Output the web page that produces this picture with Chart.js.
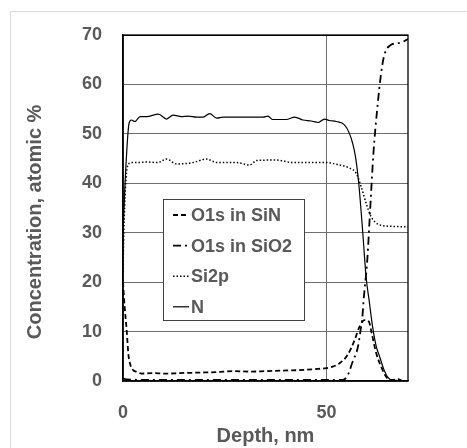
<!DOCTYPE html>
<html>
<head>
<meta charset="utf-8">
<script src="https://cdn.jsdelivr.net/npm/chart.js@4.4.1/dist/chart.umd.min.js"></script>
<style>
  body { margin: 0; background: #fff; }
  #wrap { position: relative; width: 467px; height: 448px; overflow: hidden; }
  #frame { position: absolute; left: 10px; top: 11px; width: 480px; height: 470px; border: 1.5px solid #d9d9d9; }
  #chart8 { position: absolute; left: 0; top: 0; }
</style>
</head>
<body>
<div id="wrap">
  <div id="frame"></div>
  <canvas id="chart8" width="467" height="448"></canvas>
</div>
<script>
// depth profiles
const labels8 = ["O1s in SiN", "O1s in SiO2", "Si2p", "N"];

const o1sSiNDepth = [0, 0.4, 0.9, 1.3, 1.8, 2.5, 3.5, 4.6, 7, 10.7, 14, 18.9, 23, 27, 31, 35.2, 39, 43.4, 47, 49.9, 51.5, 53.2, 55.2, 56.9, 58.1, 59.3, 60.4, 61.0, 62.2, 63.4, 65.0, 66.3, 67.5, 68.7, 70];
const o1sSiNConc = [20, 15, 10.3, 5.6, 3.3, 2.2, 1.8, 1.5, 1.6, 1.5, 1.6, 1.7, 1.8, 2.0, 1.9, 2.0, 2.1, 2.2, 2.4, 2.6, 2.9, 3.6, 5.3, 8.3, 11.0, 12.3, 12.0, 10.0, 5.6, 2.9, 0.5, 0.2, 0.4, 0, 0];

const o1sSiO2Depth = [0, 1, 10, 20, 30, 40, 50, 54, 55.2, 56.4, 57.7, 58.3, 58.8, 59.1, 60.0, 60.7, 61.5, 62.5, 63.4, 64.2, 65.8, 67.2, 68.7, 70];
const o1sSiO2Conc = [0.5, 0.3, 0.2, 0.2, 0.2, 0.2, 0.2, 0.2, 1.2, 3.9, 6.9, 10, 13, 16.4, 24.5, 34.6, 46, 55.5, 62.3, 66, 68, 68.3, 68.6, 69.2];

const si2pDepth = [0, 0.2, 0.6, 1.1, 2.1, 3.4, 6, 8.5, 10.7, 13.2, 17.2, 20.5, 23, 27.9, 31.1, 32.8, 37.7, 41.8, 46.7, 49.9, 53.2, 55.6, 57.3, 58.5, 59.7, 60.9, 63, 66, 69.5, 70];
const si2pConc = [22, 30, 39, 43.4, 44.2, 44.2, 44.3, 44.2, 44.9, 43.9, 44.2, 44.9, 44.2, 44.2, 43.7, 44.6, 44.7, 44.2, 44.2, 44.2, 43.7, 43.1, 42, 39.3, 36, 33.3, 31.6, 31.3, 31.2, 31.2];

const nDepth = [0, 0.3, 0.5, 1.5, 2.1, 2.9, 4.2, 5.8, 8.7, 10.7, 12.3, 14.4, 16.0, 18.1, 19.7, 21.3, 23.0, 24.6, 28.7, 34.4, 35.6, 36.8, 40.1, 42.2, 44.2, 46.2, 47.9, 49.5, 50.7, 52.4, 54.4, 55.6, 56.4, 57.1, 57.9, 58.9, 59.7, 60.5, 61.3, 62.2, 63.0, 64.0, 65.0, 66.0, 67.5, 70];
const nConc = [30, 36, 40, 52.2, 52.8, 52.5, 53.5, 53.5, 54.0, 53.0, 53.8, 53.5, 53.6, 53.4, 53.4, 54.1, 53.2, 53.4, 53.4, 53.4, 53.6, 52.9, 52.9, 53.4, 52.8, 52.6, 52.3, 53.0, 52.7, 52.5, 51.8, 50.1, 48.1, 45.4, 40.0, 29.9, 21.1, 16.0, 11.0, 7.0, 5.0, 2.5, 0.8, 0.2, 0.1, 0];

const xTicks8 = [0, 50];
const yTicks8 = [0, 10, 20, 30, 40, 50, 60, 70];

const textGrey = "#595959";
const fontFam = "'Liberation Sans', Arial, sans-serif";

function pts(xs, ys) {
  return xs.map((x, i) => ({ x: x, y: ys[i] }));
}

// frame around the plot area
const plotBorder = {
  id: "plotBorder",
  beforeDatasetsDraw(chart) {
    const a = chart.chartArea;
    const ctx = chart.ctx;
    ctx.save();
    ctx.strokeStyle = "#000";
    ctx.lineWidth = 1.3;
    ctx.strokeRect(a.left, a.top, a.right - a.left, a.bottom - a.top);
    ctx.restore();
  }
};

// boxed legend sitting inside the plot
const boxLegend = {
  id: "boxLegend",
  afterDatasetsDraw(chart) {
    const ctx = chart.ctx;
    const x0 = 163, y0 = 199, w = 141, h = 121;
    ctx.save();
    ctx.fillStyle = "#fff";
    ctx.fillRect(x0, y0, w, h);
    ctx.strokeStyle = "#404040";
    ctx.lineWidth = 1;
    ctx.strokeRect(x0 + 0.5, y0 + 0.5, w, h);
    chart.data.datasets.forEach((ds, i) => {
      const y = 215 + i * 30.6;
      ctx.beginPath();
      ctx.setLineDash(ds.borderDash || []);
      ctx.strokeStyle = "#000";
      ctx.lineWidth = ds.borderWidth;
      ctx.moveTo(173, y);
      ctx.lineTo(189, y);
      ctx.stroke();
      ctx.setLineDash([]);
      ctx.fillStyle = textGrey;
      ctx.font = "bold 18px " + fontFam;
      ctx.textBaseline = "middle";
      ctx.textAlign = "left";
      ctx.fillText(ds.label, 191, y + 1);
    });
    ctx.restore();
  }
};

const ctx8 = document.getElementById("chart8").getContext("2d");

const myChart8 = new Chart(ctx8, {
  type: "line",
  data: {
    datasets: [
      {
        label: labels8[0],
        data: pts(o1sSiNDepth, o1sSiNConc),
        borderColor: "#000",
        borderWidth: 1.8,
        borderDash: [5, 3],
        pointRadius: 0,
        cubicInterpolationMode: "monotone"
      },
      {
        label: labels8[1],
        data: pts(o1sSiO2Depth, o1sSiO2Conc),
        borderColor: "#000",
        borderWidth: 1.8,
        borderDash: [8, 4, 2, 4],
        pointRadius: 0,
        cubicInterpolationMode: "monotone"
      },
      {
        label: labels8[2],
        data: pts(si2pDepth, si2pConc),
        borderColor: "#000",
        borderWidth: 1.5,
        borderDash: [1.5, 2],
        pointRadius: 0,
        cubicInterpolationMode: "monotone"
      },
      {
        label: labels8[3],
        data: pts(nDepth, nConc),
        borderColor: "#000",
        borderWidth: 1.2,
        pointRadius: 0,
        cubicInterpolationMode: "monotone"
      }
    ]
  },
  options: {
    responsive: false,
    animation: false,
    devicePixelRatio: 1,
    layout: { padding: { left: 0, top: 35, right: 59, bottom: 0 } },
    plugins: {
      legend: { display: false },
      tooltip: { enabled: false }
    },
    scales: {
      x: {
        type: "linear",
        min: 0,
        max: 70,
        afterBuildTicks: (scale) => { scale.ticks = xTicks8.map((v) => ({ value: v })); },
        afterFit: (scale) => { scale.height = 67; },
        ticks: {
          padding: 21,
          color: textGrey,
          font: { family: fontFam, size: 18, weight: "bold" }
        },
        grid: { color: "#6e6e6e", lineWidth: 1, drawTicks: false },
        border: { color: "#000", width: 1.3 },
        title: {
          display: true,
          text: "Depth, nm",
          color: textGrey,
          padding: { top: 0, bottom: 0 },
          font: { family: fontFam, size: 20, weight: "bold" }
        }
      },
      y: {
        min: 0,
        max: 70,
        afterBuildTicks: (scale) => { scale.ticks = yTicks8.map((v) => ({ value: v })); },
        afterFit: (scale) => { scale.width = 123; },
        ticks: {
          padding: 21,
          color: textGrey,
          font: { family: fontFam, size: 18, weight: "bold" }
        },
        grid: {
          color: (c) => (c.tick && c.tick.value === 70 ? "#000" : "#6e6e6e"),
          lineWidth: 1,
          drawTicks: false
        },
        border: { color: "#000", width: 1.3 },
        title: {
          display: true,
          text: "Concentration, atomic %\u00a0\u00a0\u00a0\u00a0\u00a0",
          color: textGrey,
          padding: { top: 23, bottom: 0 },
          font: { family: fontFam, size: 20, weight: "bold" }
        }
      }
    }
  },
  plugins: [plotBorder, boxLegend]
});
</script>
</body>
</html>
